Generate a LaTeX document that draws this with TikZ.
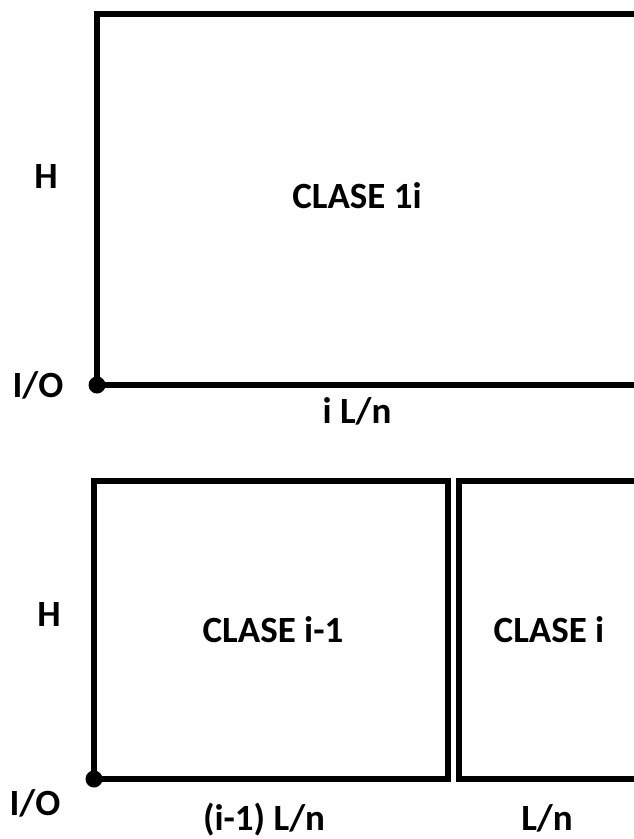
\documentclass[tikz,border=0pt]{standalone}
\usepackage{fontspec}
\setmainfont{Carlito}
\begin{document}
\begin{tikzpicture}[x=1pt,y=-1pt,
  wall/.style={line width=6pt,line join=miter,line cap=butt},
  lbl/.style={font=\bfseries\fontsize{37}{42}\selectfont,inner sep=0pt,anchor=base},
  port/.style={circle,fill=black,inner sep=0pt,minimum size=17pt}]
\useasboundingbox (0,0) rectangle (634,839);
% upper layout: one class spanning the whole depth
\coordinate (ta) at (634,14);
\coordinate (tb) at (97,14);
\coordinate (tc) at (97,385);
\coordinate (td) at (634,385);
\draw[wall] (ta) -- (tb) -- (tc) -- (td);
\node[port] (io1) at (tc) {};
\node[lbl] (h1) at (46,188) {H};
\node[lbl] (c1) at (357,208) {CLASE 1i};
\node[lbl] (p1) at (38,397) {I/O};
\node[lbl] (w1) at (357,423) {i L/n};
% lower layout: classes i-1 and i side by side
\coordinate (la) at (94,481);
\coordinate (lb) at (448,481);
\coordinate (lc) at (448,779);
\coordinate (ld) at (94,779);
\draw[wall] (la) -- (lb) -- (lc) -- (ld) -- cycle;
\coordinate (ra) at (634,481);
\coordinate (rb) at (459,481);
\coordinate (rc) at (459,779);
\coordinate (rd) at (634,779);
\draw[wall] (ra) -- (rb) -- (rc) -- (rd);
\node[port] (io2) at (ld) {};
\node[lbl] (h2) at (49,626) {H};
\node[lbl] (c2) at (273,642) {CLASE i-1};
\node[lbl] (c3) at (549,642) {CLASE i};
\node[lbl] (p2) at (35,815) {I/O};
\node[lbl] (w2) at (264,830) {(i-1) L/n};
\node[lbl] (w3) at (547,830) {L/n};
\end{tikzpicture}
\end{document}
